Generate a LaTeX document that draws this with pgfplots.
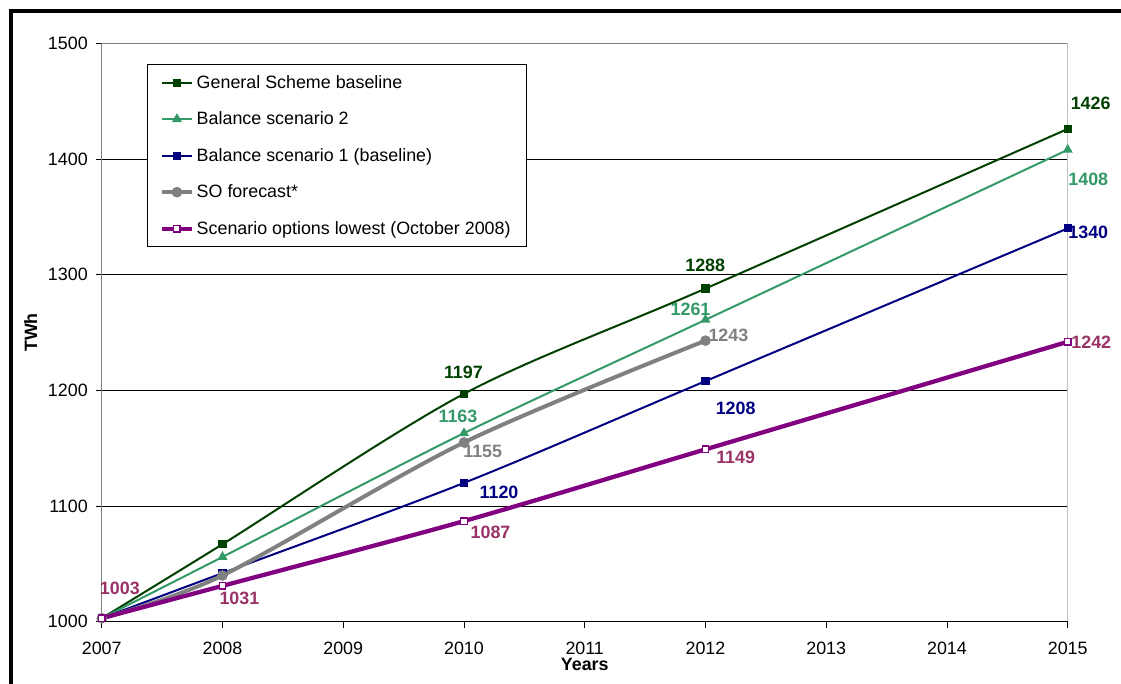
\documentclass[border=0pt]{standalone}
\usepackage{pgfplots}
\pgfplotsset{compat=1.18}
\usepackage{fontspec}
\setmainfont{Liberation Sans}
\definecolor{gsgreen}{RGB}{0,64,0}
\definecolor{bsgreen}{RGB}{51,153,102}
\definecolor{bsnavy}{RGB}{0,0,128}
\definecolor{sogray}{RGB}{128,128,128}
\definecolor{lowpurple}{RGB}{128,0,128}
\definecolor{lowlabel}{RGB}{153,51,102}
\definecolor{lgray}{RGB}{192,192,192}
\newcommand{\fs}{\fontsize{13.4}{15.5}\selectfont}
\begin{document}
\begin{tikzpicture}
\path[use as bounding box] (0pt,0pt) rectangle (840.75pt,513pt);
\draw[black, line width=2.6pt] (8.1pt,-5pt) -- (8.1pt,504.9pt) -- (850pt,504.9pt);
\begin{axis}[
  scale only axis,
  width=724.5pt, height=433.8pt,
  at={(76.3pt,46.7pt)}, anchor=south west,
  xmin=2007, xmax=2015, ymin=1000, ymax=1500,
  xtick={2007,2008,...,2015},
  ytick={1000,1100,...,1500},
  /pgf/number format/1000 sep={},
  /pgf/number format/assume math mode=true,
  tick label style={font=\fs},
  xticklabel style={yshift=-7pt},
  yticklabel style={xshift=-2.5pt},
  xtick pos=bottom, ytick pos=left,
  tick align=outside,
  major tick length=4.5pt,
  tick style={black, line width=0.6pt},
  axis line style={draw=none},
  ymajorgrids, grid style={black, line width=0.6pt},
  xlabel={\bfseries Years}, ylabel={\bfseries TWh},
  label style={font=\fs},
  xlabel style={at={(axis description cs:0.5,-0.0745)}, anchor=center},
  ylabel style={at={(axis description cs:-0.0737,0.5)}, anchor=center},
  clip=false,
  legend cell align=left,
  legend style={at={(0.0466,0.9642)}, anchor=north west, draw=black, line width=0.6pt,
    font=\fs, inner xsep=9.5pt, inner ysep=6pt, row sep=12.2pt, nodes={inner sep=2pt}},
  legend image code/.code={\draw[mark repeat=2,mark phase=2,#1] plot coordinates {(0pt,0pt) (11.25pt,0pt) (22.5pt,0pt)};},
]
\draw[sogray, line width=0.8pt] (rel axis cs:0,0) -- (rel axis cs:0,1);
\draw[sogray, line width=0.8pt] (rel axis cs:0,1) -- (rel axis cs:1,1);
\draw[lgray, line width=1pt] (rel axis cs:1,0) -- (rel axis cs:1,1);
\draw[black, line width=0.8pt] (rel axis cs:0,0) -- (rel axis cs:1,0);

\addplot[gsgreen, line width=1.5pt, smooth, mark=square*, mark size=2.3pt, mark options={solid}]
  coordinates {(2007,1003) (2008,1067) (2010,1197) (2012,1288) (2015,1426)};
\addlegendentry{General Scheme baseline}
\addplot[bsgreen, line width=1.5pt, smooth, mark=triangle*, mark size=2.9pt]
  coordinates {(2007,1003) (2008,1056) (2010,1163) (2012,1261) (2015,1408)};
\addlegendentry{Balance scenario 2}
\addplot[bsnavy, line width=1.5pt, smooth, mark=square*, mark size=2.3pt]
  coordinates {(2007,1003) (2008,1042) (2010,1120) (2012,1208) (2015,1340)};
\addlegendentry{Balance scenario 1 (baseline)}
\addplot[sogray, line width=3pt, smooth, mark=*, mark size=2.4pt]
  coordinates {(2007,1003) (2008,1040) (2010,1155) (2012,1243)};
\addlegendentry{SO forecast*}
\addplot[lowpurple, line width=3.2pt, smooth, mark=square*, mark size=2.4pt, mark options={fill=white, line width=1pt}]
  coordinates {(2007,1003) (2008,1031) (2010,1087) (2012,1149) (2015,1242)};
\addlegendentry{Scenario options lowest (October 2008)}

\begin{scope}[every node/.style={font=\fs\bfseries, inner sep=0pt}]
\node[text=lowlabel] at (axis cs:2007.15,1028.9) {1003};
\node[text=lowlabel] at (axis cs:2008.14,1020.2) {1031};
\node[text=gsgreen] at (axis cs:2009.995,1215.4) {1197};
\node[text=bsgreen] at (axis cs:2009.95,1177.6) {1163};
\node[text=sogray] at (axis cs:2010.155,1147.4) {1155};
\node[text=bsnavy] at (axis cs:2010.29,1111.9) {1120};
\node[text=lowlabel] at (axis cs:2010.22,1077.5) {1087};
\node[text=gsgreen] at (axis cs:2011.998,1307.9) {1288};
\node[text=bsgreen] at (axis cs:2011.876,1270.1) {1261};
\node[text=sogray] at (axis cs:2012.19,1247.4) {1243};
\node[text=bsnavy] at (axis cs:2012.25,1184.5) {1208};
\node[text=lowlabel] at (axis cs:2012.25,1142.2) {1149};
\node[text=gsgreen] at (axis cs:2015.19,1448.4) {1426};
\node[text=bsgreen] at (axis cs:2015.17,1382.4) {1408};
\node[text=bsnavy] at (axis cs:2015.17,1336.5) {1340};
\node[text=lowlabel] at (axis cs:2015.195,1241.6) {1242};
\end{scope}
\end{axis}
\end{tikzpicture}
\end{document}
